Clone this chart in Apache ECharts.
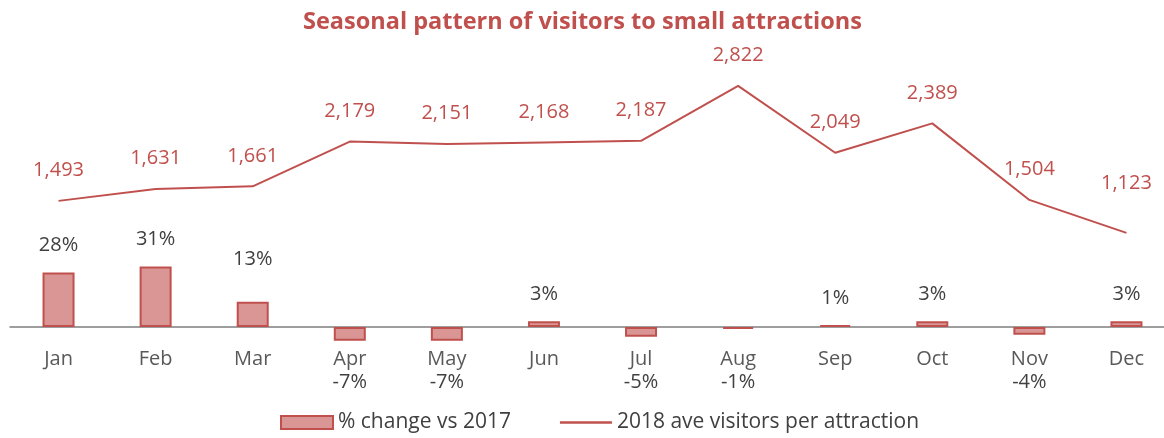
<!DOCTYPE html>
<html><head><meta charset="utf-8">
<script src="https://cdn.jsdelivr.net/npm/echarts@6/dist/echarts.min.js"></script>
<style>html,body{margin:0;padding:0;background:#fff;overflow:hidden}#c{width:1175px;height:438px}</style>
</head><body><div id="c"></div>
<script>
const months = ['Jan','Feb','Mar','Apr','May','Jun','Jul','Aug','Sep','Oct','Nov','Dec'];
const pctChange = [28,31,13,-7,-7,3,-5,-1,1,3,-4,3];
const visitors = [1493,1631,1661,2179,2151,2168,2187,2822,2049,2389,1504,1123];
const barName = '% change vs 2017';
const lineName = '2018 ave visitors per attraction';

const FONT = '"Open Sans", sans-serif';
const chart = echarts.init(document.getElementById('c'));
const option = {
  animation: false,
  textStyle: {fontFamily: FONT},
  title: {text: 'Seasonal pattern of visitors to small attractions', left: 298, top: 5,
    textStyle: {color: '#C0504D', fontSize: 23.5, fontWeight: 'bold', fontFamily: FONT}},
  legend: {bottom: 0, left: 275, itemWidth: 52, itemHeight: 13, itemGap: 49,
    textStyle: {color: '#404040', fontSize: 21, fontFamily: FONT},
    data: [{name: barName, icon: 'rect'},
           {name: lineName, icon: 'path://M0 0 H52 V2.5 H0 Z', itemStyle: {color: '#C0504D', opacity: 1, borderWidth: 0}}]},
  grid: {left: 10, right: 0, top: 20, height: 380},
  xAxis: {type: 'category', data: months, boundaryGap: true, position: 'bottom', offset: -73,
    axisLine: {onZero: false, lineStyle: {color: '#7F7F7F', width: 1.5}},
    axisTick: {show: false},
    axisLabel: {color: '#595959', fontSize: 20, margin: 22, fontFamily: FONT}},
  yAxis: [
    {type: 'value', min: -37.4, max: 157.4, show: false, splitLine: {show: false}},
    {type: 'value', min: -809, max: 3584, show: false, splitLine: {show: false}}
  ],
  series: [
    {name: barName, type: 'bar', yAxisIndex: 0, barWidth: 32,
      data: pctChange.map((v, i) => (i === 2 ? {value: v, label: {distance: 32}} : v)),
      itemStyle: {color: '#D99694', borderColor: '#C0504D', borderWidth: 2},
      label: {show: true, position: 'top', distance: 17, color: '#404040', fontSize: 20, fontFamily: FONT,
        formatter: p => p.value + '%'},
      labelLayout: function (p) {
        const v = pctChange[p.dataIndex];
        if (v < 0) {
          const zero = chart.convertToPixel({yAxisIndex: 0}, 0);
          return {x: p.rect.x + p.rect.width / 2, y: zero + 55, align: 'center', verticalAlign: 'middle'};
        }
        return {};
      }
    },
    {name: lineName, type: 'line', yAxisIndex: 1, symbol: 'circle', symbolSize: 1,
      data: visitors.map((v, i) => (i === visitors.length - 1 ? {value: v, label: {distance: 39}} : v)),
      showSymbol: true, lineStyle: {color: '#C0504D', width: 2}, itemStyle: {color: 'rgba(192,80,77,0)'},
      label: {show: true, position: 'top', distance: 20, color: '#C0504D', fontSize: 20, fontFamily: FONT,
        formatter: p => p.value.toLocaleString('en-US')}}
  ]
};
chart.setOption(option);
</script></body></html>
